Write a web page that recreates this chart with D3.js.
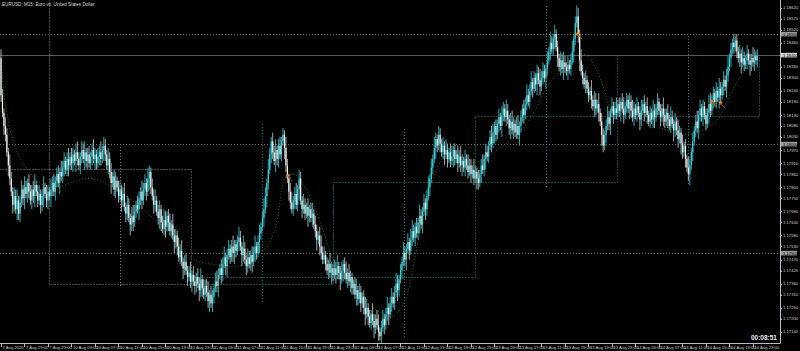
<!DOCTYPE html>
<html>
<head>
<meta charset="utf-8">
<script src="https://cdn.jsdelivr.net/npm/d3@7"></script>
<style>
  html, body { margin: 0; padding: 0; background: #000; }
  svg { display: block; font-family: "Liberation Sans", "DejaVu Sans", sans-serif; }
</style>
</head>
<body>
<svg id="chart"></svg>
<script>
// EURUSD M15, bars counted from 7 Aug 15:00; prices in pips above basePrice
const basePrice = 1.17;
const pip = 0.0001;
const firstOpen = 139;

const closes = [
  122,114,108,104,96,90,84,78,72,76,70,74,68,73,79,75,80,77,82,78,74,79,76,81,78,74,77,72,76,80,77,74,78,76,
  79,82,78,83,86,82,87,85,89,92,88,93,90,94,91,95,92,96,93,90,94,97,93,96,92,95,91,94,97,93,95,91,94,96,93,97,99,95,90,93,87,82,85,79,83,80,76,79,
  74,77,71,68,72,66,63,67,64,69,72,70,75,78,74,79,82,78,84,87,80,76,72,74,69,66,70,64,61,65,62,67,64,60,63,58,55,58,53,48,51,46,43,46,42,39,41,37,
  40,37,35,39,36,33,38,34,31,35,32,28,31,27,30,34,37,35,40,43,40,45,48,44,49,52,48,53,50,54,51,55,57,53,49,52,47,44,48,45,49,46,50,53,50,55,59,62,66,
  70,76,82,88,95,101,96,92,97,93,99,95,101,104,98,90,84,78,73,70,74,77,72,79,84,74,70,72,68,71,67,70,66,68,63,60,56,58,53,50,47,49,45,42,45,41,43,40,
  43,40,44,41,38,42,45,41,38,41,37,39,34,36,31,33,29,32,27,30,25,22,25,21,18,22,19,16,20,17,14,12,16,20,17,22,25,22,27,30,27,32,36,33,38,42,46,50,
  47,52,55,51,56,60,57,62,59,64,67,63,69,73,70,76,80,84,89,93,98,102,99,104,100,96,99,95,97,93,96,92,94,97,93,95,91,94,90,92,89,93,90,87,90,86,88,84,87,
  84,82,86,90,88,93,96,94,99,103,100,105,108,104,109,112,108,113,116,112,115,111,107,110,106,109,105,108,104,108,112,116,113,118,122,119,124,128,125,130,127,132,129,126,130,133,130,
  134,138,142,146,143,148,150,144,139,135,138,134,137,135,133,136,134,138,142,148,155,158,150,138,133,130,127,129,125,122,124,120,117,120,116,118,114,110,104,99,104,108,112,109,114,117,113,116,114,
  118,115,119,116,113,117,120,116,119,115,112,116,113,117,114,111,115,118,114,117,113,110,114,111,115,112,116,119,115,112,116,113,110,114,111,108,112,109,106,110,106,102,105,100,96,99,93,89,86,90,
  96,101,106,110,107,113,116,112,117,113,109,114,118,115,120,123,119,124,121,125,122,126,129,126,131,135,139,143,146,144,147,142,139,141,137,139,136,138,141,138,136,139,137,140,138,140
];

const wickUp = [
  4,3,2,4,3,2,5,3,2,4,3,5,2,3,4,2,5,3,2,4, 3,2,4,5,2,3,4,2,3,5,2,4,3,2,5,3,4,2,3,4,
  2,5,3,4,2,3,5,2,4,3,2,4,5,3,2,4,3,5,2,3, 4,2,3,5,3,2,4,3,5,2,4,3,2,5,3,4,2,3,4,2,
  3,4,2,3,5,2,4,3,2,4,5,3,2,4,3,2,5,3,4,2, 5,3,2,4,3,5,2,3,4,2,3,5,4,2,3,4,2,5,3,3,
  2,4,3,5,2,3,4,2,3,5,2,4,3,2,4,3,5,2,4,3, 3,5,2,4,3,2,4,5,3,2,4,3,5,2,3,4,2,3,5,2,
  2,3,5,3,2,6,3,2,4,3,2,4,3,5,2,3,4,2,3,5, 4,2,5,3,2,4,3,5,2,3,4,2,3,2,5,3,2,4,5,2,
  3,5,2,4,3,2,5,3,2,4,2,3,5,2,4,3,2,4,5,3, 4,2,3,2,5,3,2,4,3,5,2,3,4,2,3,5,2,4,3,2,
  2,3,5,2,4,3,2,3,5,4,2,3,2,5,3,2,4,5,2,3, 4,2,3,5,2,3,4,2,3,5,4,2,3,2,5,3,2,4,2,5,
  5,3,2,4,2,5,3,2,4,2,3,5,2,4,2,5,3,2,4,3, 2,4,2,5,3,2,4,5,2,3,2,4,3,5,3,2,4,2,5,3,
  3,2,5,3,2,4,2,3,5,2,4,3,2,3,5,4,2,3,2,4, 2,4,3,2,5,3,2,4,5,3,2,4,5,2,3,2,4,3,5,3,
  3,5,2,3,2,4,3,5,3,4,3,2,4,2,5,3,2,4,2,3, 2,4,3,5,3,2,4,2,3,5,2,3,5,4,2,5,3,2,4,2,
  3,2,5,2,4,3,2,5,2,4,3,2,3,5,3,2,4,2,3,5, 2,3,2,4,5,2,3,2,4,3,5,3,2,4,2,3,5,2,4,2,
  4,2,3,2,5,3,2,4,2,3,2,5,3,2,4,2,5,3,2,4, 2,5,3,2,4,2,3,2,5,3,2,4,2,3,5,2,4,2,3,2,
  3,2,4,5,2,3,2,4,2,5,3,2,4,2,3,5,2,3,2,4, 2,3,2,4,2,5,3,2,4,2,3,2,5,3,2,3
];

const wickDown = [
  3,2,4,3,2,5,3,2,4,3,2,5,3,4,2,3,5,2,4,3, 2,4,3,5,2,3,2,4,3,5,2,3,4,2,5,3,2,4,3,2,
  5,2,3,4,2,3,5,2,3,4,2,5,3,2,4,3,2,5,3,4, 2,3,4,2,5,3,2,4,3,2,5,3,2,4,3,5,2,3,4,2,
  3,2,5,3,2,4,3,2,5,3,4,2,3,2,5,3,4,2,3,4, 2,5,3,2,4,3,2,3,5,4,2,3,5,2,4,2,3,2,5,3,
  4,2,3,2,5,3,2,4,2,3,5,2,4,3,2,5,3,4,2,3, 2,3,5,2,4,3,2,3,5,2,4,3,2,4,5,2,3,2,4,5,
  3,2,4,2,5,3,2,4,3,2,3,5,2,4,3,2,5,3,2,4, 2,5,3,2,4,3,2,5,3,4,2,3,2,5,3,2,4,3,2,3,
  4,2,3,5,2,4,2,3,2,5,3,2,4,2,3,5,2,4,3,2, 2,3,2,4,2,5,3,2,4,2,3,5,2,5,3,2,4,2,5,3,
  3,2,5,3,2,4,2,3,5,2,4,2,3,2,5,3,2,4,2,3, 2,4,2,3,5,2,4,2,3,2,5,3,2,4,2,3,5,2,4,2,
  3,2,4,2,3,5,2,4,2,5,3,2,4,2,3,2,5,3,2,4, 2,3,5,2,4,2,3,2,5,3,2,4,2,3,5,2,4,2,3,2,
  4,2,3,2,5,3,2,4,2,3,5,2,3,2,4,2,5,3,2,4, 2,5,3,2,4,2,3,5,2,4,2,3,2,5,3,2,4,2,3,2,
  3,2,4,2,3,5,2,4,2,3,2,5,3,2,4,2,3,5,2,4, 2,4,2,5,3,2,4,2,3,2,5,3,2,4,5,2,3,2,4,2,
  3,2,4,2,5,3,2,4,2,5,3,2,4,2,3,5,2,4,2,3, 2,3,5,2,4,2,3,2,5,3,2,4,2,3,2,5,3,2,4,2,
  4,2,3,2,4,5,2,3,2,4,2,5,3,2,4,2,3,2,5,3, 2,4,2,5,3,2,4,2,3,5,2,4,2,3,2,5,3,2,4,2,
  3,2,5,3,2,4,2,3,2,5,3,2,4,2,5,3,2,4,2,3, 2,3,2,4,5,2,3,2,4,2,5,3,2,4,2,3
];

// price axis labels (those under the highlighted tags are hidden, as in the terminal)
const priceTicks = [
  1.18620, 1.18570, 1.18520, 1.18460, 1.18350, 1.18300, 1.18240, 1.18190, 1.18130, 1.18080,
  1.18030, 1.17970, 1.17910, 1.17860, 1.17800, 1.17750, 1.17690, 1.17640, 1.17580, 1.17530,
  1.17470, 1.17420, 1.17360, 1.17310, 1.17250, 1.17200, 1.17140
];

const timeTicks = [
  '7 Aug 2020', '7 Aug 19:00', '7 Aug 23:00', '10 Aug 03:00', '10 Aug 07:00', '10 Aug 11:00',
  '10 Aug 15:00', '10 Aug 19:00', '10 Aug 23:00', '11 Aug 03:00', '11 Aug 07:00', '11 Aug 11:00',
  '11 Aug 15:00', '11 Aug 19:00', '11 Aug 23:00', '12 Aug 03:00', '12 Aug 07:00', '12 Aug 11:00',
  '12 Aug 15:00', '12 Aug 19:00', '12 Aug 23:00', '13 Aug 03:00', '13 Aug 07:00', '13 Aug 11:00',
  '13 Aug 15:00', '13 Aug 19:00', '13 Aug 23:00', '14 Aug 03:00', '14 Aug 07:00', '14 Aug 11:00',
  '14 Aug 15:00', '14 Aug 19:00', '14 Aug 23:00'
];
const barsPerTick = 16;

const roundLevels = [1.18500, 1.18000, 1.17500];
const bidPrice = 1.18402;

// daily candles overlay (bar bounds + OHLC)
const dayBounds = [-64, 32.7, 129.4, 226, 322.7, 419.4, 516.1];
const dayOpen  = [1.18780, 1.17884, 1.17358, 1.17390, 1.17824, 1.18126];
const dayHigh  = [1.19160, 1.17998, 1.18090, 1.18066, 1.18628, 1.18491];
const dayLow   = [1.17560, 1.17350, 1.17267, 1.17107, 1.17792, 1.17815];
const dayClose = [1.17884, 1.17358, 1.17390, 1.17824, 1.18126, 1.18402];

// smoothed trend line: [bar, pips]
const trendKnots = [
  [0,141],[2,122],[16,90],[35,80],[60,84],[85,76],[110,62],[135,46],[160,44],[180,52],
  [188,65],[193,84],[199,86],[207,80],[217,65],[226,47],[236,37],[246,29],[258,23],[266,21],
  [270,23],[277,32],[283,52],[292,79],[302,93],[319,91],[340,98],[360,111],[372,126],[383,135],
  [394,141],[399,140],[410,126],[415,116],[440,110],[465,104],[488,111],[494,119],[501,128],
  [508,134],[515,135]
];

// orange markers: [bar, price]
const markers = [[392.7, 1.18500], [195.4, 1.17852], [484, 1.18190], [490, 1.18185]];

const titleText = 'EURUSD, M15:  Euro vs. United States Dollar';
const timerText = '00:08:51';

/////////////////////////

const W = 800, H = 351;
const plot = {left: 0, right: 780, top: 0, bottom: 343};

const svg = d3.select('#chart').attr('width', W).attr('height', H);
svg.append('rect').attr('width', W).attr('height', H).attr('fill', '#000');

svg.append('clipPath').attr('id', 'clip')
  .append('rect')
  .attr('x', plot.left).attr('y', plot.top)
  .attr('width', plot.right - plot.left).attr('height', plot.bottom - plot.top);

const xscale = d3.scaleLinear().domain([0, 515]).range([1, 757.4]);
const yscale = d3.scaleLinear().domain([1.175, 1.185]).range([253, 34]);

const toPrice = (p) => basePrice + p * pip;

const bars = closes.map((c, i) => {
  const o = i === 0 ? firstOpen : closes[i - 1];
  return {
    i,
    open: toPrice(o),
    close: toPrice(c),
    high: toPrice(Math.max(o, c) + (wickUp[i] ?? 2)),
    low: toPrice(Math.min(o, c) - (wickDown[i] ?? 2))
  };
});

const g = svg.append('g').attr('clip-path', 'url(#clip)');

// round price levels
g.selectAll('line.level').data(roundLevels).join('line')
  .attr('class', 'level')
  .attr('x1', plot.left).attr('x2', plot.right)
  .attr('y1', (d) => Math.round(yscale(d)) + 0.5)
  .attr('y2', (d) => Math.round(yscale(d)) + 0.5)
  .attr('stroke', '#6e6e6e').attr('stroke-width', 1).attr('stroke-dasharray', '1,2');

// daily candle overlay
const days = dayOpen.map((o, k) => ({
  x0: dayBounds[k], x1: dayBounds[k + 1],
  open: o, high: dayHigh[k], low: dayLow[k], close: dayClose[k]
}));
const dayColor = (d) => (d.close >= d.open ? '#158c8c' : '#8a8a8a');

g.selectAll('rect.day').data(days).join('rect')
  .attr('class', 'day')
  .attr('x', (d) => Math.round(xscale(d.x0)) + 0.5)
  .attr('width', (d) => Math.round(xscale(d.x1)) - Math.round(xscale(d.x0)))
  .attr('y', (d) => Math.round(yscale(Math.max(d.open, d.close))) + 0.5)
  .attr('height', (d) => Math.abs(Math.round(yscale(d.open)) - Math.round(yscale(d.close))))
  .attr('fill', 'none')
  .attr('stroke', dayColor).attr('stroke-dasharray', '1,2');

g.selectAll('line.daywick').data(days).join('line')
  .attr('class', 'daywick')
  .attr('x1', (d) => Math.round(xscale((d.x0 + d.x1) / 2)) + 0.5)
  .attr('x2', (d) => Math.round(xscale((d.x0 + d.x1) / 2)) + 0.5)
  .attr('y1', (d) => yscale(d.high))
  .attr('y2', (d) => yscale(d.low))
  .attr('stroke', dayColor).attr('stroke-dasharray', '1,2');

// bid line
g.append('line')
  .attr('x1', plot.left).attr('x2', plot.right)
  .attr('y1', Math.round(yscale(bidPrice)) + 0.5)
  .attr('y2', Math.round(yscale(bidPrice)) + 0.5)
  .attr('stroke', '#5a5a5a').attr('stroke-width', 1);

// trend curve
const trendLine = d3.line()
  .x((d) => xscale(d[0]))
  .y((d) => yscale(toPrice(d[1])))
  .curve(d3.curveMonotoneX);
g.append('path')
  .datum(trendKnots)
  .attr('d', trendLine)
  .attr('fill', 'none')
  .attr('stroke', '#1d7a1d')
  .attr('stroke-width', 1)
  .attr('stroke-dasharray', '1,2');

// candles
const isBull = (d) => d.close >= d.open;
const candle = g.selectAll('g.bar').data(bars).join('g').attr('class', 'bar');

candle.append('line')
  .attr('x1', (d) => xscale(d.i)).attr('x2', (d) => xscale(d.i))
  .attr('y1', (d) => yscale(d.high)).attr('y2', (d) => yscale(d.low))
  .attr('stroke', (d) => (isBull(d) ? '#2aa9b3' : '#a8a8a8'))
  .attr('stroke-width', 1);

candle.append('rect')
  .attr('x', (d) => xscale(d.i) - 0.6)
  .attr('width', 1.2)
  .attr('y', (d) => yscale(Math.max(d.open, d.close)))
  .attr('height', (d) => Math.max(1, Math.abs(yscale(d.open) - yscale(d.close))))
  .attr('fill', (d) => (isBull(d) ? '#3fd0d8' : '#f2f2f2'));

// orange markers
g.selectAll('path.marker').data(markers).join('path')
  .attr('class', 'marker')
  .attr('transform', (d) => `translate(${xscale(d[0])},${yscale(d[1])})`)
  .attr('d', 'M-1.5,-1.5 L1.5,-1.5 L1.5,1.5 L-1.5,1.5 Z')
  .attr('fill', '#f08a1c');

g.selectAll('line.markerTail').data(markers).join('line')
  .attr('class', 'markerTail')
  .attr('x1', (d) => xscale(d[0]))
  .attr('y1', (d) => yscale(d[1]))
  .attr('x2', (d) => xscale(d[0]) + 4)
  .attr('y2', (d) => yscale(d[1]) + 5)
  .attr('stroke', '#8a4a10').attr('stroke-width', 1);

// axes frame
svg.append('line')
  .attr('x1', plot.right + 0.5).attr('x2', plot.right + 0.5)
  .attr('y1', plot.top).attr('y2', plot.bottom + 0.5)
  .attr('stroke', '#bdbdbd');
svg.append('line')
  .attr('x1', plot.left).attr('x2', plot.right + 0.5)
  .attr('y1', plot.bottom + 0.5).attr('y2', plot.bottom + 0.5)
  .attr('stroke', '#bdbdbd');

// price axis
const yaxisG = svg.append('g');
yaxisG.selectAll('line').data(priceTicks).join('line')
  .attr('x1', plot.right).attr('x2', plot.right + 2)
  .attr('y1', (d) => Math.round(yscale(d)) + 0.5)
  .attr('y2', (d) => Math.round(yscale(d)) + 0.5)
  .attr('stroke', '#bdbdbd');
yaxisG.selectAll('text').data(priceTicks).join('text')
  .attr('x', plot.right + 3)
  .attr('y', (d) => yscale(d) + 1.5)
  .attr('font-size', 4.2)
  .attr('fill', '#cfcfcf')
  .text((d) => d.toFixed(5));

// highlighted price labels
const tags = roundLevels.map((v) => ({v, bg: '#9c9c9c'})).concat([{v: bidPrice, bg: '#d0d0d0'}]);
const tagG = svg.append('g').selectAll('g').data(tags).join('g')
  .attr('transform', (d) => `translate(${plot.right + 1},${Math.round(yscale(d.v))})`);
tagG.append('rect')
  .attr('x', 0).attr('y', -2.2).attr('width', 16).attr('height', 4.6)
  .attr('fill', (d) => d.bg);
tagG.append('text')
  .attr('x', 2).attr('y', 1.5)
  .attr('font-size', 4.2).attr('fill', '#000')
  .text((d) => d.v.toFixed(5));

// time axis
const xaxisG = svg.append('g');
xaxisG.selectAll('line').data(timeTicks).join('line')
  .attr('x1', (d, k) => Math.round(xscale(k * barsPerTick)) + 0.5)
  .attr('x2', (d, k) => Math.round(xscale(k * barsPerTick)) + 0.5)
  .attr('y1', plot.bottom).attr('y2', plot.bottom + 4)
  .attr('stroke', '#bdbdbd');
xaxisG.selectAll('text').data(timeTicks).join('text')
  .attr('x', (d, k) => xscale(k * barsPerTick) + 1.5)
  .attr('y', plot.bottom + 5.5)
  .attr('font-size', 4.2)
  .attr('fill', '#cfcfcf')
  .text((d) => d);

// title & timer
svg.append('text')
  .attr('x', 2).attr('y', 6)
  .attr('font-size', 4.6).attr('fill', '#d8d8d8')
  .text(titleText);
svg.append('text')
  .attr('x', 777).attr('y', 339.5)
  .attr('text-anchor', 'end')
  .attr('font-size', 6.5).attr('font-weight', 'bold')
  .attr('fill', '#e8ecff')
  .text(timerText);
</script>
</body>
</html>
